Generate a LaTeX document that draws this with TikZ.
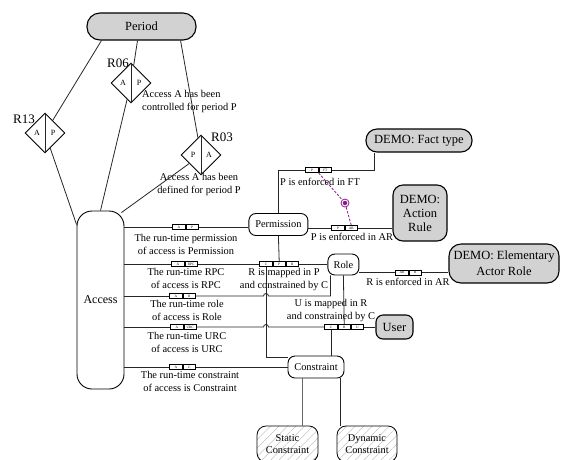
\documentclass[tikz,border=0pt]{standalone}
\usepackage{fontspec}
\setmainfont{Liberation Serif}
\usetikzlibrary{shapes.geometric, positioning, calc, patterns.meta}
\definecolor{subsetc}{RGB}{140,25,140}
\newcommand{\drawl}{\draw[line width=0.8pt, black!85]}

\begin{document}
\begin{tikzpicture}[x=1pt, y=-1pt,
  ent/.style={draw, line width=0.9pt, rounded corners=7pt, fill=white, inner sep=0pt, align=center, font=\fontsize{10.4}{12.5}\selectfont},
  dent/.style={draw, line width=1.1pt, fill=gray!35, inner sep=0pt, align=center, font=\fontsize{12.5}{15}\selectfont},
  hent/.style={draw, line width=0.8pt, rounded corners=9pt, inner sep=0pt, align=center, pattern={Lines[angle=45,distance=6pt,line width=0.35pt]}, pattern color=gray!60, font=\fontsize{10.4}{12}\selectfont},
  rel/.style={draw, diamond, minimum size=40pt, inner sep=0pt, line width=0.9pt},
  rlbl/.style={font=\fontsize{13}{13}\selectfont, inner sep=0pt},
  half/.style={font=\fontsize{8}{8}\selectfont, inner sep=0pt},
  cell/.style={draw, line width=0.8pt, fill=white, minimum width=12.4pt, minimum height=5pt, inner sep=0pt, font=\fontsize{3.5}{3.5}\selectfont},
  lbl/.style={inner sep=0pt, align=center, anchor=north, font=\fontsize{10.4}{12.6}\selectfont}]
\useasboundingbox (0,0) rectangle (561,459);
\clip (0,0) rectangle (561,459);

% Period and its relations
\node[dent, rounded corners=13pt, minimum width=109pt, minimum height=27pt] (period) at (141.5,26.5) {Period};
\node[rel] (r13) at (45,133) {};
\node[rel] (r06) at (131,83) {};
\node[rel] (r03) at (201,155) {};
\foreach \r/\a/\b in {r13/A/P, r06/A/P, r03/P/A} {
  \drawl (\r.north) -- (\r.south);
  \node[half] (\r-l) at ($(\r)+(-8,0)$) {\a};
  \node[half] (\r-r) at ($(\r)+(8,0)$) {\b};
}
\node[rlbl] (r13n) at (24,119) {R13};
\node[rlbl] (r06n) at (118,63) {R06};
\node[rlbl] (r03n) at (222,137) {R03};
\node[lbl, anchor=north west, align=left] (r06t) at (142,90) {Access A has been\\controlled for period P};
\node[lbl] (r03t) at (199,173) {Access A has been\\defined for period P};

% Access
\node[ent, rounded corners=15pt, minimum width=47pt, minimum height=178pt, font=\fontsize{12}{14}\selectfont] (access) at (100.5,300) {Access};

\coordinate (p13) at ($(period.south west)+(15,0)$);
\coordinate (p06) at ($(period.south)+(-4,0)$);
\coordinate (p03) at ($(period.south east)+(-16,0)$);
\coordinate (a13) at ($(access.north west)+(0,14)$);
\coordinate (a03) at ($(access.north east)+(-3,2)$);
\drawl (p13) -- (r13);
\drawl (p06) -- (r06);
\drawl (p03) -- (r03);
\drawl (r13) -- (a13);
\drawl (r06) -- (access.north);
\drawl (r03) -- (a03);

% Entity types
\node[ent, minimum width=59pt, minimum height=22pt] (perm) at (278.4,224.5) {Permission};
\node[ent, minimum width=31pt, minimum height=21pt] (role) at (343.4,264.5) {Role};
\node[ent, minimum width=56pt, minimum height=22pt] (constraint) at (316,367) {Constraint};
\node[dent, rounded corners=11pt, minimum width=106pt, minimum height=23pt] (facttype) at (419,140.5) {DEMO: Fact type};
\node[dent, rounded corners=10pt, minimum width=54pt, minimum height=56pt, font=\fontsize{12.5}{14}\selectfont] (actrule) at (420,213) {DEMO:\\Action\\Rule};
\node[dent, rounded corners=12pt, minimum width=110pt, minimum height=39pt, font=\fontsize{12.5}{16}\selectfont] (elem) at (504,263.5) {DEMO: Elementary\\Actor Role};
\node[dent, rounded corners=7pt, minimum width=37pt, minimum height=24pt] (user) at (394.5,327) {User};
\node[hent, minimum width=61pt, minimum height=36pt] (static) at (287.5,444) {Static\\Constraint};
\node[hent, minimum width=60pt, minimum height=36pt] (dynamic) at (367,444) {Dynamic\\Constraint};

% Fact types (role boxes)
\node[cell] (ap1) at (179,227) {A};
\node[cell, right=0pt of ap1] (ap2) {P};
\node[cell] (arpc1) at (178,264) {A};
\node[cell, right=0pt of arpc1] (arpc2) {RPC};
\node[cell] (ar1) at (176,296) {A};
\node[cell, right=0pt of ar1] (ar2) {R};
\node[cell] (aurc1) at (177,327) {A};
\node[cell, right=0pt of aurc1] (aurc2) {URC};
\node[cell] (ac1) at (176,367) {A};
\node[cell, right=0pt of ac1] (ac2) {C};
\node[cell] (pft1) at (312,170) {P};
\node[cell, right=0pt of pft1] (pft2) {FT};
\node[cell] (par1) at (338,228) {P};
\node[cell, right=0pt of par1] (par2) {AR};
\node[cell] (cpr1) at (266,264) {C};
\node[cell, right=0pt of cpr1] (cpr2) {P};
\node[cell, right=0pt of cpr2] (cpr3) {R};
\node[cell] (cru1) at (331,327) {C};
\node[cell, right=0pt of cru1] (cru2) {R};
\node[cell, right=0pt of cru2] (cru3) {U};
\node[cell] (arr1) at (402,272.5) {AR};
\node[cell, right=0pt of arr1] (arr2) {R};

% Fact type readings
\node[lbl] (tperm) at (186,234) {The run-time permission\\of access is Permission};
\node[lbl] (trpc) at (186,268.5) {The run-time RPC\\of access is RPC};
\node[lbl] (trole) at (187,300) {The run-time role\\of access is Role};
\node[lbl] (turc) at (187,332) {The run-time URC\\of access is URC};
\node[lbl] (tcon) at (190,371) {The run-time constraint\\of access is Constraint};
\node[lbl] (tcpr) at (284,268.5) {R is mapped in P\\and constrained by C};
\node[lbl, anchor=south] (tcru) at (331,322) {U is mapped in R\\and constrained by C};
\node[lbl] (tpft) at (320,177.5) {P is enforced in FT};
\node[lbl] (tpar) at (352,233) {P is enforced in AR};
\node[lbl] (tarr) at (408,277.5) {R is enforced in AR};

% Connectors
\coordinate (h3) at (cpr1.south |- ar2);
\coordinate (h4) at (cpr1.south |- aurc2);
\coordinate (rl) at ($(role.south west)+(3,0)$);
\coordinate (cc) at ($(constraint.north west)+(0,2)$);
\coordinate (ftx) at ($(facttype.south west)+(9,0)$);
\coordinate (cs1) at ($(constraint.south west)+(15,0)$);
\coordinate (cs2) at ($(constraint.south east)+(-4,0)$);

\drawl (access.east |- ap1) -- (ap1.west);
\drawl (ap2.east) -- (perm.west |- ap2);
\drawl (access.east |- arpc1) -- (arpc1.west);
\drawl (arpc2.east) -- (cpr1.west);
\drawl (cpr3.east) -- (role.west |- cpr3);
\drawl (access.east |- ar1) -- (ar1.west);
\drawl (ar2.east) -- ($(h3)+(-2.5,0)$) arc[start angle=180, end angle=0, radius=2.5pt] -| (rl);
\drawl (access.east |- aurc1) -- (aurc1.west);
\drawl (aurc2.east) -- ($(h4)+(-2.5,0)$) arc[start angle=180, end angle=0, radius=2.5pt] -- (cru1.west);
\drawl (cru3.east) -- (user.west |- cru3);
\drawl (access.east |- ac1) -- (ac1.west);
\drawl (ac2.east) -- (constraint.west |- ac2);

\drawl (perm.south) -- (cpr2.north);
\drawl (perm.north) |- (pft1.west);
\drawl (pft2.east) -| (ftx);
\drawl (perm.east |- par1) -- (par1.west);
\drawl (par2.east) -- (actrule.west |- par2);
\drawl (cpr1.south) |- (cc);
\drawl (role.south) -- (cru2.north);
\drawl (cru1.south) -- (cru1.south |- constraint.north);
\drawl (role.east |- arr1) -- (arr1.west);
\drawl (arr2.east) -- (elem.west |- arr2);
\draw[line width=1.1pt, gray!80!black] (cs1) -- (cs1 |- static.north);
\drawl (cs2) -- (cs2 |- dynamic.north);

% Subset constraint
\node[circle, draw=subsetc, line width=0.8pt, minimum size=8pt, inner sep=0pt] (ring) at (345,203) {};
\node[circle, fill=subsetc, minimum size=4.5pt, inner sep=0pt] (ringdot) at (ring) {};
\draw[subsetc, line width=0.8pt, dash pattern=on 2.5pt off 1.5pt] (pft1.south east) -- (ring);
\draw[subsetc, line width=0.8pt, dash pattern=on 2.5pt off 1.5pt] (ring) -- (par2.north);

\end{tikzpicture}
\end{document}
